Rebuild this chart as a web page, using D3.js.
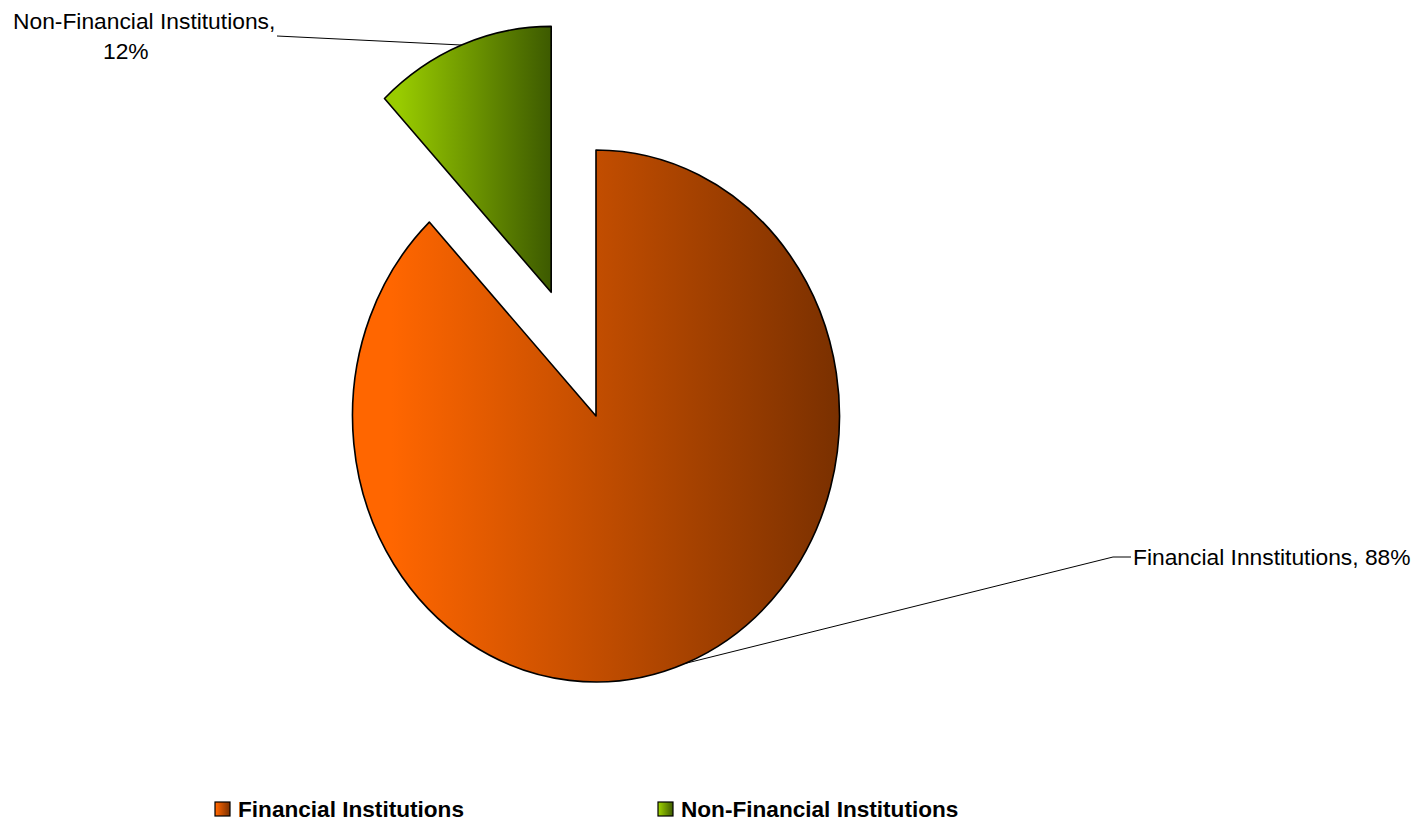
<!DOCTYPE html>
<html>
<head>
<meta charset="utf-8">
<script src="https://cdn.jsdelivr.net/npm/d3@7"></script>
<style>
  html, body { margin: 0; padding: 0; background: #fff; }
  svg { display: block; font-family: "Liberation Sans", Arial, sans-serif; }
</style>
</head>
<body>
<div id="chart"></div>
<script>
const categories = ["Financial Institutions", "Non-Financial Institutions"];
const values = [88, 12];
const pointLabels = [["Financial Innstitutions, 88%"], ["Non-Financial Institutions,", "12%"]];
const exploded = [0, 0.5];

const width = 1422;
const height = 825;
const cx = 596;
const cy = 416;
const ry = 266;
const rx = 243.5;

const gradients = [
  ["#ff6600", "#7a3000"],
  ["#99cc00", "#3d5a00"]
];

const svg = d3.select("#chart")
  .append("svg")
  .attr("width", width)
  .attr("height", height);

const defs = svg.append("defs");
gradients.forEach((g, i) => {
  const lg = defs.append("linearGradient")
    .attr("id", "grad" + i)
    .attr("x1", 0).attr("x2", 1).attr("y1", 0).attr("y2", 0);
  lg.append("stop").attr("offset", 0).attr("stop-color", g[0]);
  lg.append("stop").attr("offset", 0.08).attr("stop-color", g[0]);
  lg.append("stop").attr("offset", 1).attr("stop-color", g[1]);
});

const pie = d3.pie().sort(null).value(d => d)(values);
const arc = d3.arc().innerRadius(0).outerRadius(ry);

function offset(d, i) {
  const a = (d.startAngle + d.endAngle) / 2;
  return [exploded[i] * rx * Math.sin(a), -exploded[i] * ry * Math.cos(a)];
}

svg.append("g")
  .selectAll("path")
  .data(pie)
  .enter()
  .append("path")
  .attr("d", arc)
  .attr("transform", (d, i) => {
    const o = offset(d, i);
    return `translate(${cx + o[0]},${cy + o[1]}) scale(${rx / ry},1)`;
  })
  .attr("fill", (d, i) => `url(#grad${i})`)
  .attr("stroke", "#000")
  .attr("stroke-width", 1.6)
  .attr("vector-effect", "non-scaling-stroke")
  .attr("stroke-linejoin", "round");

// leader lines and data labels
const labelPos = [
  { x: 1133, y: 565, anchor: "start", bend: [1113, 557], end: [1131, 557] },
  { x: 13, y: 29, x2: 103, anchor: "start", lineDy: 30, bend: null, end: [277, 36] }
];

pie.forEach((d, i) => {
  const a = (d.startAngle + d.endAngle) / 2;
  const o = offset(d, i);
  const px = cx + o[0] + rx * Math.sin(a);
  const py = cy + o[1] - ry * Math.cos(a);
  const lp = labelPos[i];
  const pts = [[px, py]];
  if (lp.bend) pts.push(lp.bend);
  pts.push(lp.end);
  svg.append("path")
    .attr("d", d3.line()(pts))
    .attr("fill", "none")
    .attr("stroke", "#000")
    .attr("stroke-width", 1);

  const t = svg.append("text")
    .attr("x", lp.x)
    .attr("y", lp.y)
    .attr("text-anchor", lp.anchor)
    .attr("font-size", 22.8)
    .attr("fill", "#000");
  pointLabels[i].forEach((line, j) => {
    t.append("tspan")
      .attr("x", j === 0 ? lp.x : lp.x2)
      .attr("dy", j === 0 ? 0 : lp.lineDy)
      .text(line);
  });
});

// legend
const legendX = [215, 658];
const legend = svg.append("g").attr("class", "legend");
categories.forEach((c, i) => {
  const g = legend.append("g").attr("transform", `translate(${legendX[i]},809)`);
  g.append("rect")
    .attr("x", 0).attr("y", -7)
    .attr("width", 15).attr("height", 14)
    .attr("fill", `url(#grad${i})`)
    .attr("stroke", "#000")
    .attr("stroke-width", 1.2);
  g.append("text")
    .attr("x", 23)
    .attr("y", 8)
    .attr("font-size", 22.6)
    .attr("font-weight", "bold")
    .attr("fill", "#000")
    .text(c);
});
</script>
</body>
</html>
